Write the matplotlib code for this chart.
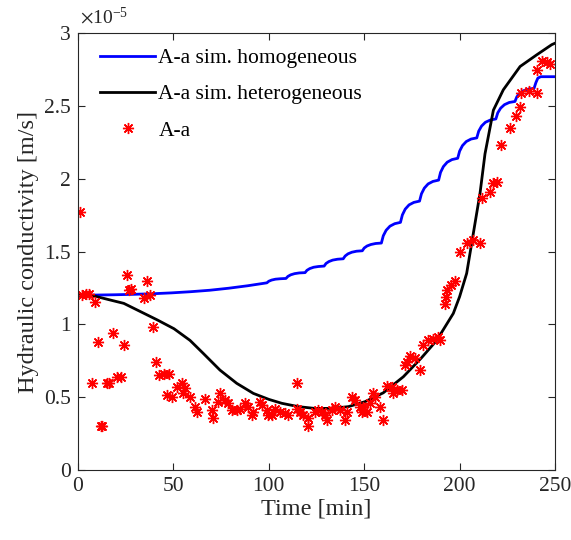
import numpy as np
import matplotlib.pyplot as plt

plt.rcParams['font.family'] = ['Liberation Serif', 'DejaVu Serif']
plt.rcParams['mathtext.fontset'] = 'stix'

# Simulacion homogenea (valores x 1e-5 m/s)
t_hom = [0, 9, 19, 29, 39, 49, 59, 69, 79, 89,
         99, 100, 101.5, 103.5, 106,
         109, 110, 111.5, 113.5, 116,
         119, 120, 121.5, 123.5, 126,
         129, 130, 131.5, 133.5, 136,
         139, 140, 141.5, 143.5, 146,
         149, 150, 151.5, 153.5, 156,
         159, 160, 161.5, 163.5, 166,
         169, 170, 171.5, 173.5, 176,
         179, 180, 181.5, 183.5, 186,
         189, 190, 191.5, 193.5, 196,
         199, 200, 201.5, 203.5, 206,
         209, 210, 211.5, 213.5, 216,
         219, 220, 221.5, 223.5, 226,
         229, 230, 231.5, 233.5, 236,
         239, 240, 241, 242.5, 250]
k_hom = [1.200, 1.201, 1.203, 1.206, 1.210, 1.216, 1.224, 1.234, 1.248, 1.265,
         1.285, 1.296, 1.304, 1.310, 1.313,
         1.315, 1.329, 1.340, 1.348, 1.353,
         1.355, 1.371, 1.383, 1.392, 1.397,
         1.400, 1.418, 1.431, 1.441, 1.447,
         1.450, 1.469, 1.484, 1.495, 1.502,
         1.505, 1.524, 1.538, 1.548, 1.555,
         1.558, 1.608, 1.646, 1.674, 1.691,
         1.700, 1.751, 1.791, 1.820, 1.837,
         1.846, 1.896, 1.935, 1.964, 1.981,
         1.990, 2.043, 2.083, 2.113, 2.131,
         2.140, 2.189, 2.227, 2.255, 2.272,
         2.280, 2.326, 2.361, 2.387, 2.402,
         2.410, 2.452, 2.484, 2.508, 2.523,
         2.530, 2.562, 2.586, 2.604, 2.615,
         2.620, 2.660, 2.690, 2.700, 2.700]

# Simulacion heterogenea
t_het = [0, 5, 8.4, 16, 24, 32.8, 41.6, 50.3, 58.7, 65.7, 74.4, 83.2, 91.9,
         100, 106.8, 115.5, 124, 133, 141.7, 150.4, 160, 170.5, 180, 188,
         196.7, 200, 203.7, 207.2, 210.7, 213.3, 217.7, 222.9, 231.7, 240.4,
         248.3, 250]
k_het = [1.20, 1.20, 1.195, 1.17, 1.144, 1.087, 1.03, 0.97, 0.89, 0.80,
         0.686, 0.595, 0.526, 0.485, 0.458, 0.435, 0.423, 0.423, 0.435, 0.469,
         0.53, 0.64, 0.77, 0.89, 1.075, 1.19, 1.35, 1.625, 1.90, 2.17, 2.47,
         2.61, 2.77, 2.85, 2.92, 2.93]

# Mediciones A-a
t_obs = [1, 2.3, 4, 5.8, 8.7, 10.7, 7.5, 12.7, 11.9, 15.4, 16.2, 18.3, 20.3,
         22.4, 24.1, 25.5, 26.7, 27.9, 34.6, 37.7, 36.3, 39.5, 40.7, 42.5, 45,
         47.7, 46.8, 49.4,
         51.7, 54.3, 56.1, 55.2, 58.7, 61.3, 62.2, 66.6, 70.1, 70.9, 74.4, 73.5,
         77, 78.8, 80.5, 83.2, 84.9, 87.5, 89.3, 91, 91.9, 95.4, 96.3, 98.9,
         99.7,
         101.5, 103.3, 105.9, 108.5, 110.2, 114.6, 114.6, 116.3, 118.1, 120.7,
         120.7, 124.2, 126, 127.7, 130.3, 129.5, 133, 134.7, 137.3, 139.9,
         140.8, 143.4, 145.2, 147.8, 148.7,
         149.5, 151.3, 153, 155.7, 158.3, 160, 154.8, 161.8, 164.4, 167, 169.6,
         165.2, 171.4, 174, 176.6, 179.2, 172.2, 181, 183.6, 186.2, 188.8,
         189.7, 192.3, 192.9, 193.6, 195.3, 197.6, 200.2, 203.7,
         207.2, 210.7, 211.6, 215.9, 217.7, 219.4, 221.7, 226.4, 229.4, 231.7,
         232.2, 236.5, 240.4, 240.4, 243, 245.6, 247.4]
k_obs = [1.77, 1.20, 1.21, 1.21, 1.15, 0.88, 0.60, 0.30, 0.30, 0.60, 0.60,
         0.94, 0.64, 0.64, 0.86, 1.34, 1.235, 1.24, 1.18, 1.20, 1.30, 0.98,
         0.74, 0.65, 0.66, 0.66, 0.515, 0.50,
         0.57, 0.595, 0.56, 0.53, 0.50, 0.435, 0.40, 0.49, 0.41, 0.355, 0.53,
         0.47, 0.48, 0.46, 0.41, 0.41, 0.42, 0.46, 0.435, 0.38, 0.40, 0.47,
         0.445, 0.41, 0.38,
         0.38, 0.42, 0.40, 0.39, 0.38, 0.595, 0.42, 0.40, 0.38, 0.355, 0.30,
         0.40, 0.41, 0.40, 0.34, 0.38, 0.41, 0.435, 0.41, 0.34, 0.40, 0.50,
         0.48, 0.435, 0.40,
         0.435, 0.40, 0.46, 0.50, 0.435, 0.34, 0.53, 0.58, 0.57, 0.55, 0.55,
         0.53, 0.72, 0.78, 0.77, 0.69, 0.74, 0.86, 0.89, 0.90, 0.915, 0.89,
         1.14, 1.19, 1.235, 1.27, 1.30, 1.50, 1.56,
         1.58, 1.56, 1.865, 1.91, 1.97, 1.98, 2.23, 2.35, 2.43, 2.49, 2.585,
         2.60, 2.585, 2.745, 2.81, 2.80, 2.79]

fig = plt.figure(figsize=(5.71, 5.40), dpi=100)
ax = fig.add_axes([0.1366, 0.1296, 0.8354, 0.8093])

ax.plot(t_hom, k_hom, color='#0000ff', linewidth=2, label='A-a sim. homogeneous')
ax.plot(t_het, k_het, color='black', linewidth=2, label='A-a sim. heterogeneous')
ax.plot(t_obs, k_obs, linestyle='none', marker=(8, 2, 0), markersize=8,
        markeredgewidth=1, color='red', label='A-a')

ax.set_xlim(0, 250)
ax.set_ylim(0, 3)
ax.set_xticks(np.arange(0, 251, 50))
ax.set_yticks(np.arange(0, 3.01, 0.5))
ax.set_yticklabels(['0', '0.5', '1', '1.5', '2', '2.5', '3'])
ax.tick_params(direction='in', top=True, right=True, labelsize=15.5, length=5,
               color='#262626', labelcolor='#262626', pad=5)
for s in ax.spines.values():
    s.set_color('#262626')
    s.set_linewidth(0.8)

ax.set_xlabel('Time [min]', fontsize=17.5, color='#262626', labelpad=2)
ax.set_ylabel('Hydraulic conductivity [m/s]', fontsize=17.5, color='#262626',
              labelpad=4)
ax.text(0.004, 1.012, r'$\times\mathregular{10^{-5}}$', transform=ax.transAxes,
        fontsize=14, va='bottom', ha='left', color='#262626')

ax.legend(loc='upper left', bbox_to_anchor=(0.015, 1.0), frameon=False,
          fontsize=15.5, handlelength=2.55, handletextpad=0.15,
          borderaxespad=0.3, labelspacing=0.75)

plt.savefig('out.png', dpi=100)
